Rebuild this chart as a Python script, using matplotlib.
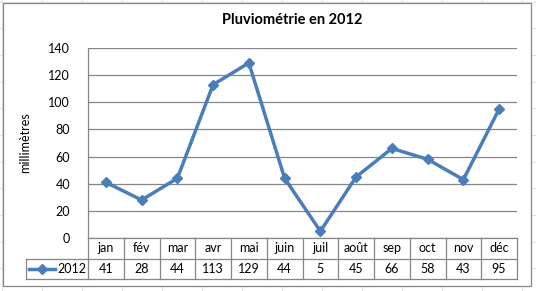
import numpy as np
import matplotlib.pyplot as plt
from matplotlib.patches import Rectangle
from matplotlib.lines import Line2D
import matplotlib.transforms as mtransforms

plt.rcParams['font.family'] = ['Lato', 'DejaVu Sans']

months = ['jan', 'fév', 'mar', 'avr', 'mai', 'juin', 'juil', 'août', 'sep', 'oct', 'nov', 'déc']
rain_2012 = [41, 28, 44, 113, 129, 44, 5, 45, 66, 58, 43, 95]
series_name = '2012'
yticks = [0, 20, 40, 60, 80, 100, 120, 140]

W, H = 536, 291
blue = '#4A7EBB'
grey = '#868686'
fs = 9


def fx(px):
    return px / W


def fy(py):
    return 1 - py / H


fig = plt.figure(figsize=(W / 100, H / 100), dpi=100)
fig.patch.set_facecolor('white')

# excel sheet cells behind the chart
for gx in np.arange(2, W, 40):
    fig.add_artist(Line2D([fx(gx), fx(gx)], [0, 1], color='#dadcdd', lw=0.6, zorder=0))
for gy in np.arange(1.7, H, 26.67):
    fig.add_artist(Line2D([0, 1], [fy(gy), fy(gy)], color='#dadcdd', lw=0.6, zorder=0))

# chart area
fig.add_artist(Rectangle((fx(3), fy(286)), fx(528), 283 / H, facecolor='white',
                         edgecolor=grey, lw=0.9, zorder=1))

# plot area
left, right, top, bottom = 88, 517, 48, 238
ax = fig.add_axes([fx(left), fy(bottom), fx(right - left), (bottom - top) / H], zorder=2)
ax.set_facecolor('white')
x = np.arange(len(months))
ax.plot(x, rain_2012, color=blue, lw=2.5, marker='D', markersize=5.5, zorder=3)
ax.set_xlim(-0.5, len(months) - 0.5)
ax.set_ylim(0, 140)
ax.set_yticks(yticks)
ax.set_xticks([])
ax.tick_params(axis='y', length=0, pad=13, labelsize=fs)
ax.grid(axis='y', color=grey, lw=0.9)
ax.set_axisbelow(True)
for s in ['top', 'right']:
    ax.spines[s].set_visible(False)
for s in ['left', 'bottom']:
    ax.spines[s].set_color(grey)
    ax.spines[s].set_linewidth(0.9)
ax.set_ylabel('millimètres', fontsize=fs, labelpad=12)

fig.text(0.5 * (fx(left) + fx(right)) - 0.02, fy(20), 'Pluviométrie en 2012',
         ha='center', va='center', fontsize=10.5, fontweight='bold')

# data table under the axis
row_h = 20.5 / (bottom - top)
trans = mtransforms.blended_transform_factory(ax.transData, ax.transAxes)
edges = np.arange(len(months) + 1) - 0.5
for e in edges:
    ax.plot([e, e], [0, -2 * row_h], transform=trans, color=grey, lw=0.9, clip_on=False)
ax.plot([-0.5, 11.5], [-row_h, -row_h], transform=trans, color=grey, lw=0.9, clip_on=False)
leg_left = -0.5 - (left - 26) / ((right - left) / 12)
ax.plot([leg_left, 11.5], [-2 * row_h, -2 * row_h], transform=trans, color=grey, lw=0.9, clip_on=False)
ax.plot([leg_left, -0.5], [-row_h, -row_h], transform=trans, color=grey, lw=0.9, clip_on=False)
ax.plot([leg_left, leg_left], [-row_h, -2 * row_h], transform=trans, color=grey, lw=0.9, clip_on=False)
for i, (m, v) in enumerate(zip(months, rain_2012)):
    ax.text(i, -0.5 * row_h, m, transform=trans, ha='center', va='center', fontsize=fs)
    ax.text(i, -1.5 * row_h, str(v), transform=trans, ha='center', va='center', fontsize=fs)

# legend key in the table
cw = (right - left) / 12
k0 = leg_left + 3 / cw
k1 = leg_left + 29 / cw
ax.plot([k0, k1], [-1.5 * row_h] * 2, transform=trans, color=blue, lw=2.5, clip_on=False)
ax.plot([(k0 + k1) / 2], [-1.5 * row_h], transform=trans, color=blue, marker='D',
        markersize=5.5, clip_on=False)
ax.text(-0.5 - 2 / cw, -1.5 * row_h, series_name, transform=trans, ha='right',
        va='center', fontsize=fs)

fig.savefig('out.png', dpi=100)
